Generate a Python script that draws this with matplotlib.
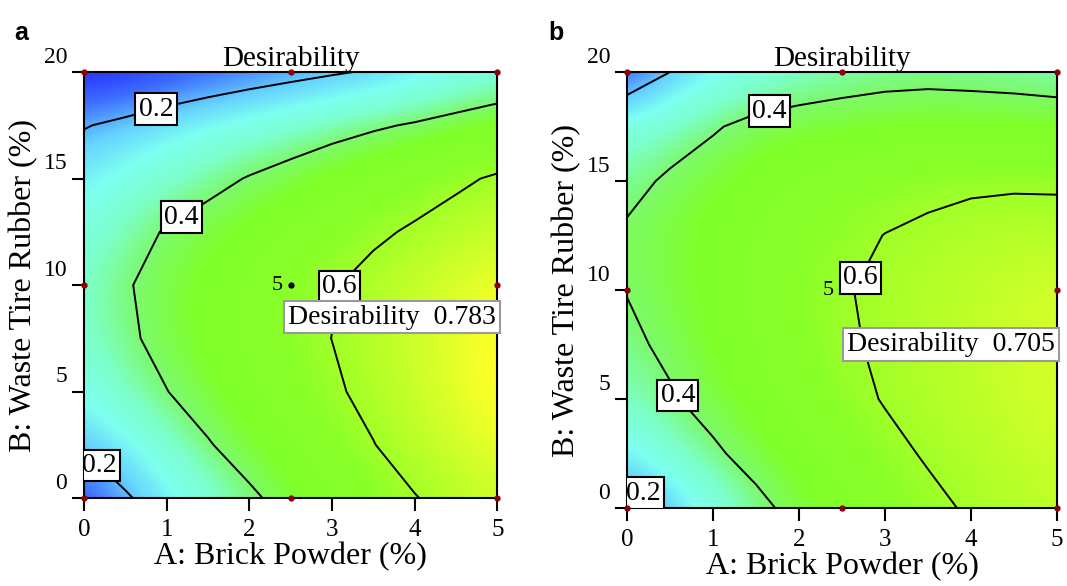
import matplotlib
matplotlib.use("Agg")
import matplotlib.pyplot as plt
import matplotlib.transforms as mtransforms
from matplotlib.colors import LinearSegmentedColormap

plt.rcParams['font.family'] = ['Liberation Serif', 'DejaVu Serif']

# grid: A = brick powder (%), B = waste tire rubber (%)
brick = [0, 0.5, 1, 1.5, 2, 2.5, 3, 3.5, 4, 4.5, 5]
rubber = [0, 2.5, 5, 7.5, 10, 12.5, 15, 17.5, 20]

# desirability, one row per rubber value
desir_a = [
    [0.12, 0.188, 0.253, 0.317, 0.382, 0.438, 0.490, 0.542, 0.595, 0.640, 0.680],
    [0.21, 0.270, 0.330, 0.393, 0.446, 0.496, 0.547, 0.597, 0.650, 0.700, 0.740],
    [0.29, 0.350, 0.398, 0.445, 0.491, 0.537, 0.584, 0.630, 0.680, 0.730, 0.780],
    [0.33, 0.383, 0.429, 0.472, 0.515, 0.558, 0.601, 0.645, 0.690, 0.735, 0.775],
    [0.34, 0.392, 0.434, 0.474, 0.513, 0.553, 0.592, 0.635, 0.675, 0.715, 0.750],
    [0.31, 0.360, 0.408, 0.442, 0.477, 0.512, 0.546, 0.581, 0.614, 0.647, 0.680],
    [0.26, 0.297, 0.333, 0.370, 0.406, 0.440, 0.475, 0.510, 0.545, 0.580, 0.614],
    [0.195, 0.220, 0.250, 0.278, 0.305, 0.330, 0.360, 0.386, 0.410, 0.440, 0.470],
    [0.08, 0.090, 0.110, 0.130, 0.150, 0.170, 0.190, 0.210, 0.240, 0.270, 0.300],
]
desir_b = [
    [0.13, 0.214, 0.294, 0.374, 0.432, 0.480, 0.528, 0.575, 0.612, 0.636, 0.660],
    [0.27, 0.330, 0.385, 0.434, 0.480, 0.526, 0.572, 0.610, 0.635, 0.660, 0.685],
    [0.34, 0.390, 0.434, 0.478, 0.522, 0.566, 0.606, 0.630, 0.655, 0.680, 0.700],
    [0.38, 0.419, 0.461, 0.503, 0.545, 0.587, 0.614, 0.637, 0.660, 0.683, 0.705],
    [0.403, 0.435, 0.474, 0.514, 0.553, 0.593, 0.618, 0.640, 0.660, 0.680, 0.700],
    [0.415, 0.442, 0.474, 0.506, 0.538, 0.570, 0.602, 0.618, 0.632, 0.640, 0.645],
    [0.37, 0.415, 0.450, 0.480, 0.510, 0.530, 0.555, 0.575, 0.585, 0.588, 0.585],
    [0.31, 0.350, 0.390, 0.430, 0.445, 0.455, 0.462, 0.466, 0.466, 0.462, 0.458],
    [0.12, 0.200, 0.260, 0.300, 0.330, 0.350, 0.365, 0.370, 0.365, 0.360, 0.350],
]
levels = [0.2, 0.4, 0.6]
optimum = [0.783, 0.705]

# design points (centre point has 5 replicates)
design_A = [0, 2.5, 5, 0, 5, 0, 2.5, 5]
design_B = [0, 0, 0, 10, 10, 20, 20, 20]
center_A, center_B, center_reps = 2.5, 10, 5

# Design-Expert like colour ramp (blue -> cyan -> green -> yellow -> red)
cmap = LinearSegmentedColormap.from_list('dx', [
    (0.00, (0.05, 0.00, 1.00)),
    (0.06, (0.10, 0.06, 1.00)),
    (0.15, (0.24, 0.43, 1.00)),
    (0.22, (0.40, 0.82, 1.00)),
    (0.28, (0.49, 1.00, 0.94)),
    (0.34, (0.49, 1.00, 0.80)),
    (0.40, (0.49, 0.98, 0.42)),
    (0.46, (0.50, 1.00, 0.16)),
    (0.55, (0.54, 1.00, 0.16)),
    (0.65, (0.73, 1.00, 0.16)),
    (0.71, (0.85, 1.00, 0.16)),
    (0.77, (1.00, 1.00, 0.16)),
    (1.00, (1.00, 0.00, 0.00)),
])

fig = plt.figure(figsize=(10.67, 5.86), dpi=100)
ax_a = fig.add_axes([0.0787, 0.150, 0.3875, 0.727])
ax_b = fig.add_axes([0.5876, 0.133, 0.4030, 0.744])

label_pos_a = [(0.87, 18.3), (0.2, 1.6), (1.07, 13.9), (3.0, 10.0)]
label_pos_b = [(1.62, 19.0), (0.25, 1.0), (0.7, 5.4), (2.6, 10.8)]


def panel(ax, D, opt, label_pos, flag_y):
    ax.imshow(D, origin='lower', extent=[-0.25, 5.25, -1.25, 21.25],
              cmap=cmap, vmin=0, vmax=1, interpolation='bicubic', aspect='auto')
    cs = ax.contour(brick, rubber, D, levels=levels, colors='black', linewidths=1.4)
    lbls = ax.clabel(cs, fmt='%.1f', manual=label_pos, inline=False, fontsize=20)
    for t in lbls:
        t.set_rotation(0)
        t.set_zorder(6)
        t.set_bbox(dict(boxstyle='square,pad=0.12', fc='white', ec='black', lw=1.5))

    ax.plot(design_A, design_B, 'o', ms=3.5, color='#8b0000', clip_on=False, zorder=8)
    ax.plot(center_A, center_B, 'o', ms=3.5, color='black', zorder=5)
    ax.text(center_A - 0.1, center_B, str(center_reps), ha='right', va='center',
            fontsize=16, zorder=5)

    ax.text(4.98, flag_y, f'Desirability  {opt:.3f}', ha='right', va='center',
            fontsize=20, zorder=7,
            bbox=dict(boxstyle='square,pad=0.14', fc='white', ec='#9a9a9a', lw=1.5))

    ax.set_xlim(0, 5)
    ax.set_ylim(0, 20)
    ax.set_xticks(range(6))
    ax.set_yticks([0, 5, 10, 15, 20])
    ax.tick_params(direction='out', length=9, width=1.5, color='black')
    ax.tick_params(axis='x', labelsize=18, pad=6)
    ax.tick_params(axis='y', labelsize=17, pad=3)
    off = mtransforms.ScaledTranslation(0, 3 / 72, fig.dpi_scale_trans)
    for lab in ax.get_yticklabels():
        lab.set_verticalalignment('bottom')
        lab.set_transform(lab.get_transform() + off)
    for sp in ax.spines.values():
        sp.set_linewidth(1.5)
    ax.set_title('Desirability', fontsize=21, pad=1)
    ax.set_xlabel('A: Brick Powder (%)', fontsize=23, labelpad=1)
    ax.set_ylabel('B: Waste Tire Rubber (%)', fontsize=23, labelpad=4)


panel(ax_a, desir_a, optimum[0], label_pos_a, 8.5)
panel(ax_b, desir_b, optimum[1], label_pos_b, 7.5)

fig.text(0.013, 0.965, 'a', fontsize=18, fontweight='bold', family='Liberation Sans',
         va='top')
fig.text(0.514, 0.965, 'b', fontsize=18, fontweight='bold', family='Liberation Sans',
         va='top')

fig.savefig('out.png', dpi=100)
